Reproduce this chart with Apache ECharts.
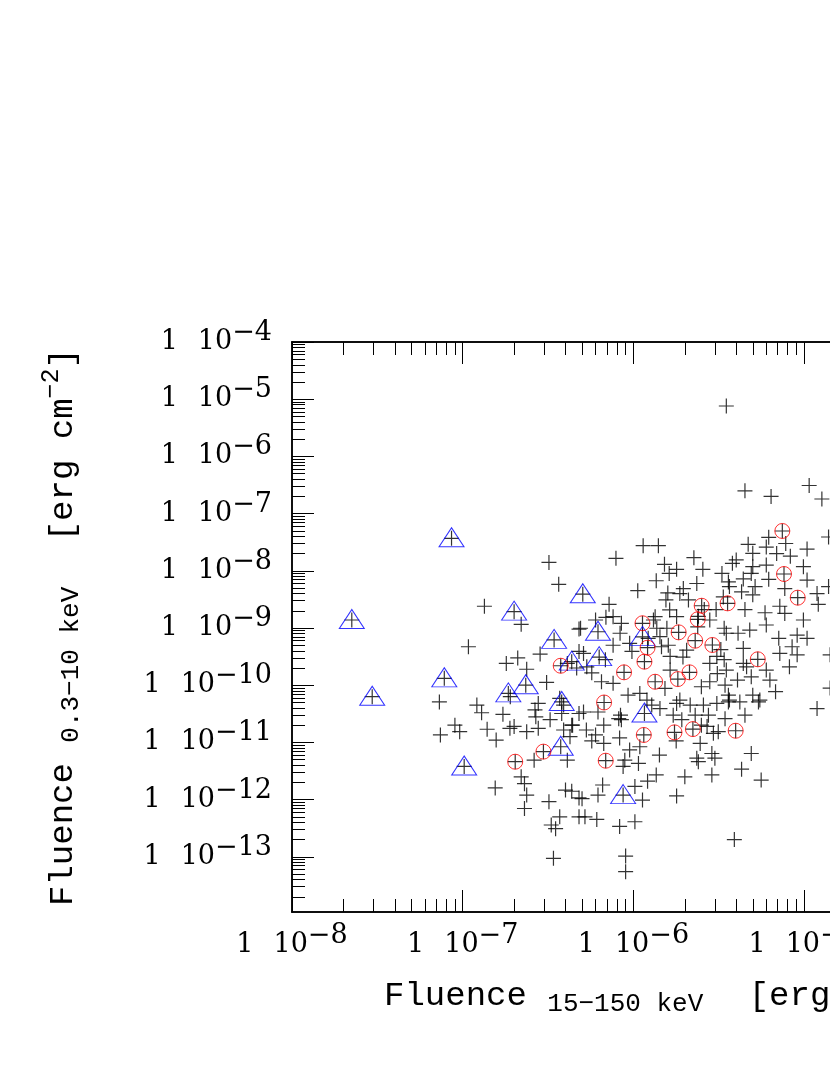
<!DOCTYPE html>
<html><head><meta charset="utf-8">
<script src="https://cdn.jsdelivr.net/npm/echarts@6/dist/echarts.min.js"></script>
<style>html,body{margin:0;padding:0;background:#fff}#c{width:830px;height:1075px}</style>
</head><body><div id="c"></div>
<script>
// Fluence 15-150 keV (x) and Fluence 0.3-10 keV (y), erg cm^-2
const crossX = [3.2e-7,3.65e-7,1.34e-7,2.2e-7,4.8e-7,1.08e-7,2.84e-7,2.1e-7,1.8e-7,2.37e-7,4.1e-7,4.65e-7,3.1e-7,1.9e-7,7.3e-8,1.21e-7,1.29e-7,1.72e-7,2.77e-7,2.65e-7,3.7e-7,3.9e-7,4.8e-7,4.8e-7,2.68e-7,9.0e-8,9.6e-8,7.4e-8,1.39e-7,1.57e-7,1.89e-7,2.0e-7,2.37e-7,2.77e-7,3.25e-7,3.9e-7,4.35e-7,3.8e-7,4.25e-7,2.62e-7,2.2e-7,2.3e-7,2.37e-7,1.55e-7,2.3e-7,3.2e-7,4.0e-7,3.7e-7,3.3e-7,3.5e-7,3.4e-7,4.1e-7,4.8e-7,4.8e-7,5.1e-7,6.2e-7,8.2e-7,8.5e-7,1.28e-6,1.43e-6,1.71e-6,1.92e-6,1.79e-6,2.15e-6,2.3e-6,2.57e-6,2.75e-6,3.08e-6,3.44e-6,3.6e-6,4.5e-6,5.4e-6,4.4e-7,5.3e-7,6.7e-7,6.0e-7,6.7e-7,5.7e-7,8.3e-7,9.5e-7,1.09e-6,2.5e-6,2.7e-6,2.94e-6,3.14e-6,2.46e-6,1.78e-6,1.42e-6,2.35e-6,2.4e-6,2.88e-6,3.0e-6,4.9e-6,8.9e-7,8.7e-7,1.07e-6,1.36e-6,1.21e-6,1.02e-6,2.0e-6,2.88e-6,4.3e-6,5.6e-6,6.6e-7,6.2e-7,5.0e-7,1.13e-6,1.79e-6,5.2e-7,6.1e-7,8.3e-7,1.02e-6,3.9e-6,9.0e-7,9.0e-7,4.35e-7,3.5e-6,4.5e-6,6.4e-6,1.07e-5,1.27e-5,1.39e-5,6.2e-6,4.7e-6,6.0e-6,7.8e-6,1.04e-5,8.3e-6,4.0e-6,3.8e-6,5.0e-6,6.0e-6,4.9e-6,4.4e-6,3.3e-6,3.6e-6,6.2e-6,1.04e-5,1.39e-5,1.14e-6,1.4e-6,7.9e-7,2.26e-6,1.52e-6,1.79e-6,2.55e-6,1.62e-6,1.36e-6,1.96e-6,2.35e-6,1.06e-6,1.59e-6,1.55e-6,7.2e-7,2.1e-6,3.05e-6,4.3e-6,5.0e-6,4.5e-6,5.9e-6,7.2e-6,7.7e-6,1.19e-5,1.21e-5,1.63e-6,1.79e-6,6.9e-7,6.0e-7,4.9e-7,8.5e-7,1.34e-6,1.37e-6,1.57e-6,2.8e-6,3.4e-6,3.5e-6,4.1e-6,4.8e-6,6.0e-6,7.1e-6,9.1e-6,1.04e-5,8.5e-6,9.1e-6,8.2e-6,1.42e-5,7.6e-7,9.5e-7,1.46e-6,1.6e-6,5.1e-7,2.05e-6,3.25e-6,3.4e-6,4.4e-6,4.6e-6,6.0e-6,6.3e-6,6.8e-6,5.7e-7,6.5e-7,7.6e-7,9.3e-7,1.09e-6,1.53e-6,1.64e-6,2.5e-6,2.8e-6,3.1e-6,3.44e-6,3.6e-6,3.65e-6,4.2e-6,5.0e-6,5.5e-6,1.87e-6,1.2e-6,8.4e-7,1.19e-5,1.42e-5,1.95e-6,1.64e-6,3.08e-6,2.8e-6,4.07e-6,3.5e-6,2.6e-6,2.4e-6,2.38e-6,1.31e-6,1.22e-6,1.43e-6,7.6e-7,8.35e-7,9.8e-7,6.85e-7,5.33e-7,4.4e-6,4.9e-6,7.2e-6,9.9e-6,5.0e-6,6.9e-6,9.9e-6,3.65e-6,5.16e-6,7.7e-6,1.87e-6,3.36e-6];
const crossY = [1.4e-8,5.8e-9,2.4e-9,1.16e-9,9.6e-10,4.7e-10,3.5e-10,3.0e-10,2.4e-10,1.9e-10,2.4e-10,2.0e-10,1.12e-10,6.3e-11,5.1e-11,4.5e-11,3.3e-11,3.1e-11,4.8e-11,3.7e-11,5.9e-11,4.5e-11,3.2e-11,3.9e-10,2.8e-11,2.0e-11,1.54e-11,1.35e-11,1.7e-11,1.1e-11,1.76e-11,1.9e-11,1.54e-11,1.76e-11,2.5e-11,1.65e-11,2.0e-11,3.2e-11,1.26e-11,4.9e-12,2.5e-12,1.9e-12,1.2e-12,1.6e-12,7.0e-13,9.2e-13,1.47e-12,5.0e-13,3.6e-13,3.1e-13,9.4e-14,4.9e-12,1.07e-12,5.0e-13,3.4e-11,3.4e-11,2.6e-11,2.5e-11,4.5e-11,3.9e-11,3.0e-11,2.5e-11,4.8e-11,4.5e-11,3.0e-11,4.5e-11,3.0e-11,4.8e-11,2.6e-11,5.1e-11,3.0e-11,5.1e-11,2.0e-11,1.65e-11,2.0e-11,1.35e-11,9.6e-12,1.06e-11,1.2e-11,7.4e-12,8.4e-12,2.0e-11,1.9e-11,1.44e-11,1.54e-11,9.6e-12,1.06e-11,6.0e-12,5.3e-12,4.6e-12,6.4e-12,5.3e-12,6.4e-12,4.9e-12,3.8e-12,4.3e-12,2.7e-12,2.1e-12,1.7e-12,2.5e-12,2.7e-12,3.4e-12,2.2e-12,1.8e-12,1.2e-12,1.04e-12,9.8e-13,1.16e-12,5.0e-13,4.5e-13,3.4e-13,4.1e-13,2.0e-13,1.03e-13,5.5e-14,1.4e-12,7.6e-6,2.5e-7,2.0e-7,3.1e-7,1.8e-7,3.9e-8,3.85e-8,2.9e-8,2.6e-8,3.0e-8,2.4e-8,1.8e-8,1.55e-8,1.35e-8,1.18e-8,1.26e-8,9.0e-9,7.2e-9,9.0e-9,6.4e-9,7.1e-9,6.9e-9,5.3e-9,2.75e-8,2.75e-8,1.65e-8,1.7e-8,1.3e-8,1.06e-8,1.06e-8,9.0e-9,6.7e-9,4.9e-9,6.0e-9,4.5e-9,4.1e-9,3.1e-9,2.6e-9,3.1e-9,2.1e-9,4.3e-9,3.8e-9,2.1e-9,1.85e-9,2.4e-9,1.8e-9,4.0e-9,2.6e-9,2.07e-9,1.58e-9,1.54e-9,1.38e-9,9.9e-10,1.21e-9,1.58e-9,9.9e-10,9.9e-10,1.38e-9,9.9e-10,8.1e-10,8.1e-10,9.2e-10,1.13e-9,6.6e-10,7.5e-10,6.6e-10,4.7e-10,3.4e-10,2.1e-10,3.4e-10,5.0e-10,5.4e-10,4.7e-10,5.0e-10,3.6e-10,4.1e-10,4.2e-10,2.8e-10,4.4e-10,2.1e-10,1.84e-10,1.23e-10,7.7e-11,1.65e-10,1.15e-10,1.08e-10,6.7e-11,7.2e-11,8.8e-11,1.84e-10,9.4e-11,1.15e-10,1.6e-10,1.0e-10,6.7e-11,5.5e-11,5.1e-11,6.7e-11,5.5e-11,5.5e-11,5.5e-11,3.0e-11,3.9e-11,8.9e-11,3.1e-10,3.2e-10,3.2e-10,2.4e-10,1.23e-10,1.84e-10,2.1e-9,1.6e-9,1.05e-9,1.38e-9,6.6e-10,7.05e-10,1.58e-9,8.1e-10,3.9e-10,2.8e-10,2.1e-10,2.4e-10,1.4e-10,3.6e-10,1.38e-9,2.02e-8,2.0e-8,1.18e-8,5.3e-9,5.3e-9,4.9e-9,4.0e-9,3.5e-9];
// blue triangles
const triX = [8.6e-8,2.24e-8,2.0e-7,3.43e-7,4.35e-7,7.8e-8,2.95e-8,1.85e-7,2.34e-7,3.8e-7,5.05e-7,3.75e-7,1.02e-7,1.16e-6,8.7e-7,6.2e-7,6.3e-7,1.13e-6];
const triY = [3.7e-8,1.38e-9,1.93e-9,6.2e-10,2.58e-10,1.32e-10,6.3e-11,7.2e-11,1.0e-10,5.1e-11,3.9e-9,8.4e-12,3.8e-12,3.2e-11,1.2e-12,8.6e-10,3.1e-10,7.0e-10];
// red circles
const circX = [2.97e-7,2.03e-7,6.73e-7,1.15e-6,1.74e-6,2.23e-6,3.97e-6,6.88e-7,7.45e-6,7.62e-6,9.17e-6,2.51e-6,3.56e-6,2.38e-6,1.13e-6,1.84e-6,2.3e-6,2.9e-6,1.21e-6,1.16e-6,5.35e-6,8.81e-7,2.13e-6,1.82e-6,1.34e-6,3.75e-7];
const circY = [6.9e-12,4.6e-12,4.99e-11,1.35e-11,1.5e-11,1.71e-11,1.6e-11,4.79e-12,4.97e-8,8.8e-9,3.39e-9,2.45e-9,2.7e-9,1.42e-9,1.21e-9,8.4e-10,6.0e-10,5.05e-10,4.53e-10,2.58e-10,2.84e-10,1.68e-10,1.68e-10,1.28e-10,1.15e-10,2.19e-10];
// axis tick exponents (labels "1  10^n")
const xTickExp = [-8,-7,-6,-5,-4];
const yTickExp = [-13,-12,-11,-10,-9,-8,-7,-6,-5,-4];
const X_MIN = 1e-8, X_MAX = 2.22e-4, Y_MIN = 1.085e-14, Y_MAX = 1e-4;

function pairs(xs, ys){ return xs.map((v,i)=>[v, ys[i]]); }
function minorVals(lo, hi){
  const out=[];
  for(let d=Math.floor(Math.log10(lo))-1; d<=Math.ceil(Math.log10(hi)); d++){
    for(let k=2;k<=9;k++){ const v=k*Math.pow(10,d); if(v>=lo && v<=hi) out.push(v); }
  }
  return out;
}
const xMajor = xTickExp.map(e=>Math.pow(10,e)).filter(v=>v<=X_MAX);
const yMajor = yTickExp.map(e=>Math.pow(10,e));
const xMinor = minorVals(X_MIN, X_MAX);
const yMinor = minorVals(Y_MIN, Y_MAX);

const labelRich = {
  one:{fontFamily:'DejaVu Serif',fontSize:27,color:'#000',padding:[0,20,0,0]},
  ten:{fontFamily:'DejaVu Serif',fontSize:27,color:'#000'},
  sup:{fontFamily:'DejaVu Serif',fontSize:27,color:'#000',padding:[0,0,18,0]}
};
function fmt(v){ const e=Math.round(Math.log10(v)); return '{one|1}{ten|10}{sup|\u2212'+Math.abs(e)+'}'; }
const titleRich = {
  m:{fontFamily:'Liberation Mono',fontSize:34,color:'#000'},
  s:{fontFamily:'Liberation Mono',fontSize:26,color:'#000',padding:[18,25,0,0]},
  p:{fontFamily:'Liberation Mono',fontSize:25,color:'#000',padding:[0,0,22,0]}
};
const line = {show:true,lineStyle:{color:'#000',width:1.5}};
function axisPair(kind, pos, lo, hi, major, minor, withLabel, name, nameGap){
  const base = {type:'log',logBase:10,min:lo,max:hi,position:pos,axisLine:line,splitLine:{show:false},minorTick:{show:false},minorSplitLine:{show:false}};
  const a = Object.assign({}, base, {
    axisTick:{show:true,inside:true,length:13,customValues:minor,lineStyle:{color:'#000',width:1}},
    axisLabel: withLabel ? {show:true,customValues:major,formatter:fmt,rich:labelRich,margin:kind==='x'?10:20} : {show:false}
  });
  if(name){ Object.assign(a,{name:name,nameLocation:'middle',nameGap:nameGap,nameTextStyle:{rich:titleRich}}); }
  const b = Object.assign({}, base, {
    axisTick:{show:true,inside:true,length:22,customValues:major,lineStyle:{color:'#000',width:1}},
    axisLabel:{show:false}
  });
  return [a,b];
}
const xAxes = axisPair('x','bottom',X_MIN,X_MAX,xMajor,xMinor,true,'{m|Fluence }{s|15\u2212150 keV}{m| [erg cm}{p|\u22122}{m|]}',60)
  .concat(axisPair('x','top',X_MIN,X_MAX,xMajor,xMinor,false));
const yAxes = axisPair('y','left',Y_MIN,Y_MAX,yMajor,yMinor,true,'{m|Fluence }{s|0.3\u221210 keV}{m| [erg cm}{p|\u22122}{m|]}',206)
  .concat(axisPair('y','right',Y_MIN,Y_MAX,yMajor,yMinor,false));

const allPts = pairs(crossX,crossY).concat(pairs(triX,triY), pairs(circX,circY));
const chart = echarts.init(document.getElementById('c'), null, {renderer:'canvas'});
chart.setOption({
  backgroundColor:'#fff',
  animation:false,
  grid:{left:292,top:342,width:742,height:570,containLabel:false,outerBoundsMode:'none'},
  xAxis:xAxes,
  yAxis:yAxes,
  series:[
    {type:'scatter',xAxisIndex:0,yAxisIndex:0,data:allPts,symbol:'path://M5,0L5,10M0,5L10,5',symbolSize:15,
     itemStyle:{color:'rgba(0,0,0,0)',borderColor:'#000',borderWidth:1.2},silent:true,emphasis:{disabled:true}},
    {type:'scatter',xAxisIndex:0,yAxisIndex:0,data:pairs(triX,triY),symbol:'triangle',symbolSize:[25,19],symbolOffset:[0,-1],
     itemStyle:{color:'rgba(0,0,0,0)',borderColor:'#0000ff',borderWidth:1},silent:true,emphasis:{disabled:true}},
    {type:'scatter',xAxisIndex:0,yAxisIndex:0,data:pairs(circX,circY),symbol:'circle',symbolSize:15,
     itemStyle:{color:'rgba(0,0,0,0)',borderColor:'#ff0000',borderWidth:1},silent:true,emphasis:{disabled:true}}
  ]
});
</script></body></html>
